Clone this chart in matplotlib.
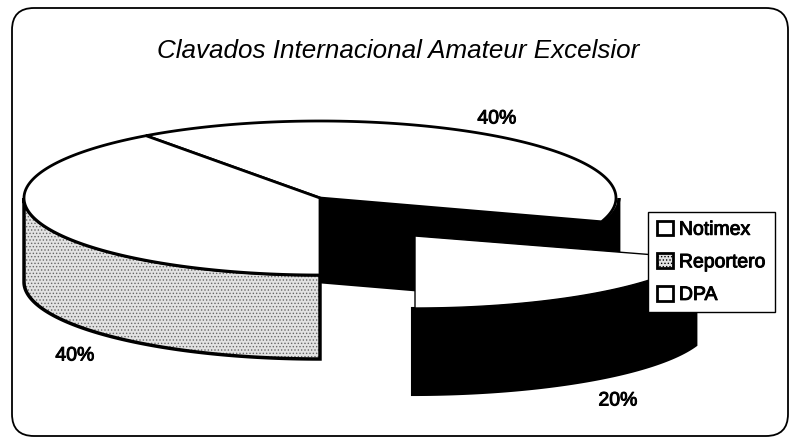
import numpy as np
import matplotlib
matplotlib.use("Agg")
import matplotlib.pyplot as plt
import matplotlib.patheffects as pe
from matplotlib.patches import Patch, Polygon, FancyBboxPatch

title = "Clavados Internacional Amateur Excelsior"
labels = ["Notimex", "DPA", "Reportero"]
values = [40, 20, 40]
pct_labels = ["40%", "20%", "40%"]
legend_order = ["Notimex", "Reportero", "DPA"]

plt.rcParams['font.family'] = ['Liberation Sans', 'DejaVu Sans']
plt.rcParams['hatch.linewidth'] = 0.6

fig = plt.figure(figsize=(7.93, 4.38), dpi=100)
ax = fig.add_axes([0, 0, 1, 1])
ax.set_xlim(0, 793)
ax.set_ylim(438, 0)
ax.axis('off')

# slice angles, clockwise from the start angle
start = 126
sweep = np.array(values) / sum(values) * 360
t1 = start - np.cumsum(np.r_[0, sweep[:-1]])
t2 = start - np.cumsum(sweep)


def rim(cx, cy, rx, ry, a, b):
    t = np.radians(np.linspace(a, b, 120))
    return np.column_stack([cx + rx*np.cos(t), cy - ry*np.sin(t)])


def side(pts, depth, **kw):
    low = pts[::-1] + [0, depth]
    ax.add_patch(Polygon(np.vstack([pts, low]), closed=True, **kw))


cx, cy, rx, ry, depth = 320, 198, 296, 77, 84
gx, gy, gry, gdepth = 415, 236, 72, 87
speckle = dict(fc='#e2e2e2', hatch='.....')
heavy = [pe.withStroke(linewidth=0.7, foreground='black')]

# Notimex: side strip and the cut face left by the moved slice, one black shape
strip = np.vstack([[cx, cy], rim(cx, cy, rx + 3, ry, t2[0], 0)])
side(strip, depth, fc='black', ec='black', lw=2)
top = np.vstack([[cx, cy], rim(cx, cy, rx, ry, t1[0], t2[0])])
ax.add_patch(Polygon(top, closed=True, fc='white', ec='black', lw=2))

# Reportero
side(rim(cx, cy, rx, ry, t1[2], -180), depth, ec='#666666', lw=0, **speckle)
side(rim(cx, cy, rx, ry, t1[2], -180), depth, fc='none', ec='black', lw=2.5)
top = np.vstack([[cx, cy], rim(cx, cy, rx, ry, t1[2], t2[2])])
ax.add_patch(Polygon(top, closed=True, fc='white', ec='black', lw=2))

# DPA, pulled out of the pie
side(rim(gx - 3, gy, rx + 3, gry, t1[1], t2[1]), gdepth, fc='black', ec='black', lw=1.5)
top = np.vstack([[gx, gy], rim(gx, gy, rx, gry, t1[1], t2[1])])
ax.add_patch(Polygon(top, closed=True, fc='white', ec='black', lw=1))

ax.add_patch(FancyBboxPatch((12, 8), 776, 428, boxstyle="round,pad=0,rounding_size=22",
                            fc='none', ec='black', lw=1.3))

ax.text(398, 51, title, style='italic', fontsize=18.7, ha='center', va='center')
for x, y, s in zip([497, 618, 75], [119, 401, 356], pct_labels):
    ax.text(x, y, s, fontsize=14, ha='center', va='center', path_effects=heavy)

styles = {"Notimex": dict(fc='white'), "Reportero": speckle, "DPA": dict(fc='white')}
handles = [Patch(ec='black', lw=2, label=n, **styles[n]) for n in legend_order]
leg = ax.legend(handles=handles, loc='upper left', bbox_to_anchor=(648/793, 1 - 212/438), fontsize=14,
                frameon=True, fancybox=False, edgecolor='black', framealpha=1, borderaxespad=0,
                handlelength=0.85, handleheight=0.8, handletextpad=0.3, labelspacing=0.74, borderpad=0.44)
for t in leg.get_texts():
    t.set_path_effects(heavy)

fig.savefig("out.png", dpi=100)
